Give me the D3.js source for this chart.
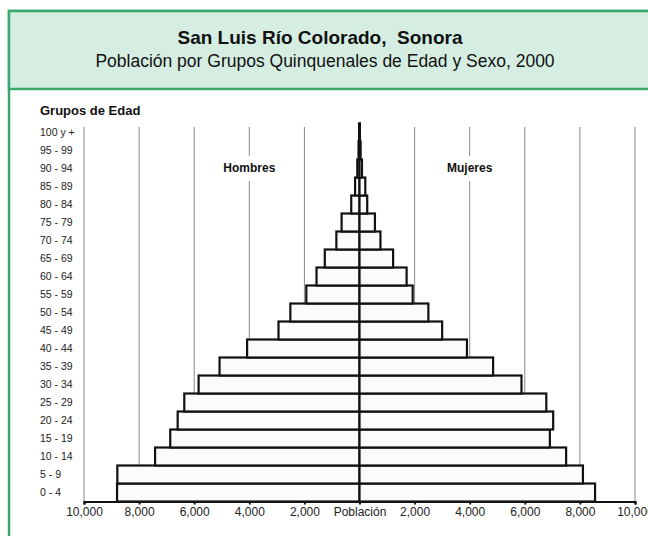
<!DOCTYPE html>
<html>
<head>
<meta charset="utf-8">
<script src="https://cdn.jsdelivr.net/npm/d3@7/dist/d3.min.js"></script>
<style>
  body { margin: 0; background: #fff; }
  svg { display: block; font-family: "Liberation Sans", Arial, sans-serif; }
</style>
</head>
<body>
<div id="chart"></div>
<script>
// grupos quinquenales, de abajo hacia arriba
const ageGroups = ["0 - 4", "5 - 9", "10 - 14", "15 - 19", "20 - 24", "25 - 29", "30 - 34",
  "35 - 39", "40 - 44", "45 - 49", "50 - 54", "55 - 59", "60 - 64", "65 - 69", "70 - 74",
  "75 - 79", "80 - 84", "85 - 89", "90 - 94", "95 - 99", "100 y +"];

const hombres = [8800, 8790, 7420, 6870, 6600, 6360, 5840, 5080, 4080, 2940, 2510,
  1930, 1560, 1260, 840, 650, 300, 160, 80, 35, 15];

const mujeres = [8550, 8110, 7500, 6910, 7030, 6780, 5880, 4850, 3900, 3000, 2500,
  1930, 1710, 1220, 760, 560, 280, 210, 90, 40, 15];

const tickValues = [-10000, -8000, -6000, -4000, -2000, 0, 2000, 4000, 6000, 8000, 10000];

const width = 648, height = 536;

const svg = d3.select("#chart").append("svg")
  .attr("width", width)
  .attr("height", height);

// marco verde
svg.append("rect")
  .attr("x", 9).attr("y", 11)
  .attr("width", 660).attr("height", 600)
  .attr("fill", "#fff")
  .attr("stroke", "#3aa76d")
  .attr("stroke-width", 2.5);

svg.append("rect")
  .attr("x", 9).attr("y", 11)
  .attr("width", 660).attr("height", 78)
  .attr("fill", "#d6eee2")
  .attr("stroke", "#3aa76d")
  .attr("stroke-width", 2.5);

svg.append("text")
  .attr("x", 320).attr("y", 44)
  .attr("text-anchor", "middle")
  .attr("font-size", 19)
  .attr("font-weight", "bold")
  .attr("fill", "#111")
  .text("San Luis Río Colorado,\u00a0 Sonora");

svg.append("text")
  .attr("x", 325).attr("y", 67)
  .attr("text-anchor", "middle")
  .attr("font-size", 17.5)
  .attr("fill", "#111")
  .text("Población por Grupos Quinquenales de Edad y Sexo, 2000");

const x = d3.scaleLinear().domain([-10000, 10000]).range([84, 635]);
const y = d3.scaleBand().domain(ageGroups).range([501.5, 123.5]).padding(0);

// lineas de rejilla
svg.append("g")
  .selectAll("line")
  .data(tickValues.filter(d => d !== 0))
  .join("line")
  .attr("x1", d => x(d)).attr("x2", d => x(d))
  .attr("y1", 127).attr("y2", 501.5)
  .attr("stroke", "#888")
  .attr("stroke-width", 1);

// etiquetas Hombres / Mujeres
const sexLabels = [{ name: "Hombres", v: -4000 }, { name: "Mujeres", v: 4000 }];
const sl = svg.append("g").selectAll("g").data(sexLabels).join("g")
  .attr("transform", d => `translate(${x(d.v)},168)`);
sl.append("rect")
  .attr("x", -28).attr("y", -12)
  .attr("width", 56).attr("height", 25)
  .attr("fill", "#fff");
sl.append("text")
  .attr("text-anchor", "middle")
  .attr("dy", "0.35em")
  .attr("font-size", 12)
  .attr("font-weight", "bold")
  .attr("fill", "#111")
  .text(d => d.name);

// barras
const bars = svg.append("g")
  .attr("fill", "#fbfbfb")
  .attr("stroke", "#111")
  .attr("stroke-width", 2.2);

bars.selectAll(".h")
  .data(ageGroups)
  .join("rect")
  .attr("class", "h")
  .attr("x", (d, i) => x(-hombres[i]))
  .attr("y", d => y(d))
  .attr("width", (d, i) => x(0) - x(-hombres[i]))
  .attr("height", y.bandwidth());

bars.selectAll(".m")
  .data(ageGroups)
  .join("rect")
  .attr("class", "m")
  .attr("x", x(0))
  .attr("y", d => y(d))
  .attr("width", (d, i) => x(mujeres[i]) - x(0))
  .attr("height", y.bandwidth());

// eje x
const axis = svg.append("g")
  .attr("transform", "translate(0,501.5)")
  .call(d3.axisBottom(x)
    .tickValues(tickValues)
    .tickSize(3)
    .tickPadding(3)
    .tickFormat(d => d === 0 ? "Población" : d3.format(",")(Math.abs(d))));

axis.select(".domain").attr("stroke", "#111").attr("stroke-width", 2);
axis.selectAll(".tick line").attr("stroke", "#111").attr("stroke-width", 2);
axis.selectAll(".tick text")
  .attr("font-family", "'Liberation Sans', Arial, sans-serif")
  .attr("font-size", 12)
  .attr("fill", "#222");

// eje y (grupos de edad)
svg.append("g")
  .selectAll("text")
  .data(ageGroups)
  .join("text")
  .attr("x", 40)
  .attr("y", d => y(d) + y.bandwidth() / 2)
  .attr("dy", "0.35em")
  .attr("font-size", 10.5)
  .attr("fill", "#222")
  .text(d => d);

svg.append("text")
  .attr("x", 40).attr("y", 115)
  .attr("font-size", 13)
  .attr("font-weight", "bold")
  .attr("fill", "#111")
  .text("Grupos de Edad");
</script>
</body>
</html>
